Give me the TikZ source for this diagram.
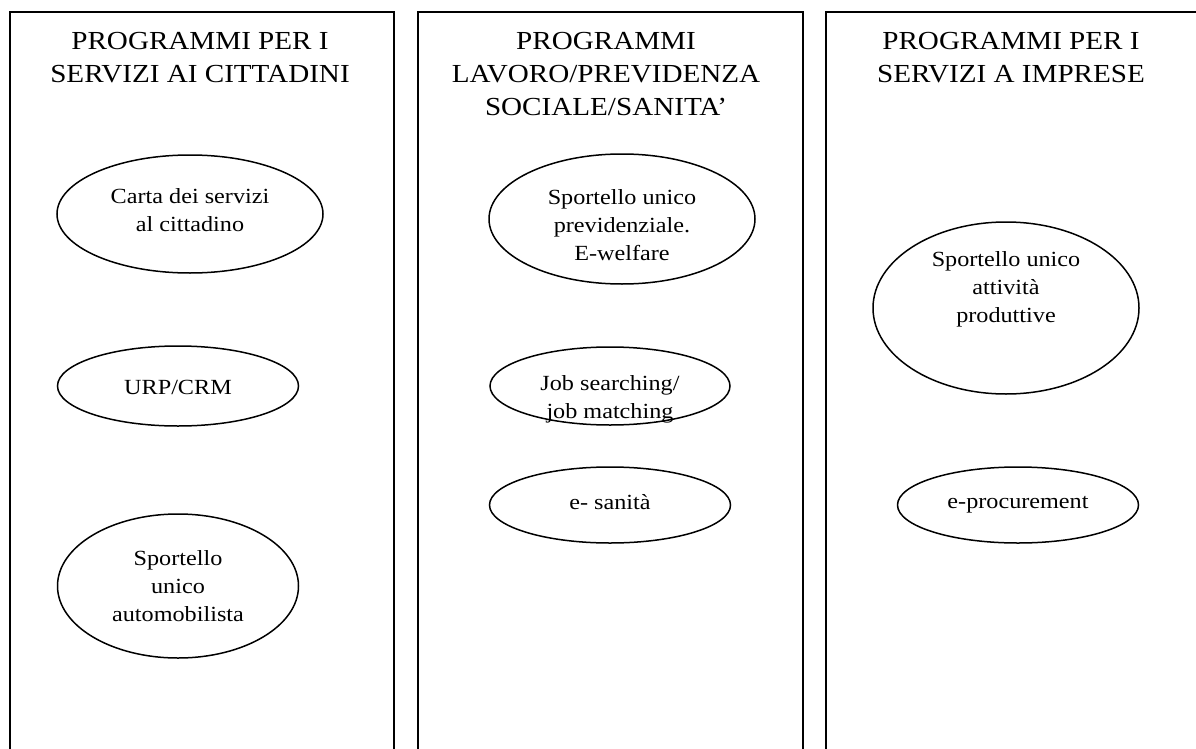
\documentclass[tikz,border=0pt]{standalone}
\usepackage{fontspec}
\setmainfont[FakeStretch=1.12]{Liberation Serif}
\usetikzlibrary{shapes.geometric}
\tikzset{
  colbox/.style={draw, line width=2pt, rectangle, inner sep=0pt, anchor=north west, minimum height=780pt},
  ell/.style={draw, ellipse, line width=1.5pt, inner sep=0pt},
  hdr/.style={anchor=base, inner sep=0pt, font=\fontsize{26}{33}\selectfont},
  etext/.style={anchor=base, inner sep=0pt, font=\fontsize{21.6}{28}\selectfont},
}
\newcommand{\lines}[1]{\begin{tabular}[t]{@{}c@{}}#1\end{tabular}}
\begin{document}
\begin{tikzpicture}[x=1pt,y=-1pt]
\useasboundingbox (0,0) rectangle (1196,749);
\clip (0,0) rectangle (1196,749);
\fill[white] (0,0) rectangle (1196,749);
% columns
\node[colbox, minimum width=384pt] (c1) at (9,11) {};
\node[colbox, minimum width=385pt] (c2) at (417,11) {};
\node[colbox, minimum width=400pt] (c3) at (825,11) {};
% headers
\node[hdr] (h1) at (200,50) {\lines{PROGRAMMI PER I\\SERVIZI AI CITTADINI}};
\node[hdr] (h2) at (606,50) {\lines{PROGRAMMI\\LAVORO/PREVIDENZA\\SOCIALE/SANITA’}};
\node[hdr] (h3) at (1011,50) {\lines{PROGRAMMI PER I\\SERVIZI A IMPRESE}};
% column 1
\node[ell, minimum width=266pt, minimum height=118pt] (e11) at (190,214) {};
\node[etext] (t11) at (190,203) {\lines{Carta dei servizi\\al cittadino}};
\node[ell, minimum width=241pt, minimum height=80pt] (e12) at (178,386) {};
\node[etext] (t12) at (178,394) {\lines{URP/CRM}};
\node[ell, minimum width=241pt, minimum height=144pt] (e13) at (178,586) {};
\node[etext] (t13) at (178,565) {\lines{Sportello\\unico\\automobilista}};
% column 2
\node[ell, minimum width=266pt, minimum height=130pt] (e21) at (622,219) {};
\node[etext] (t21) at (622,204) {\lines{Sportello unico\\previdenziale.\\E-welfare}};
\node[ell, minimum width=240pt, minimum height=78pt] (e22) at (610,386) {};
\node[etext] (t22) at (610,390) {\lines{Job searching/\\job matching}};
\node[ell, minimum width=241pt, minimum height=76pt] (e23) at (610,505) {};
\node[etext] (t23) at (610,509) {\lines{e- sanità}};
% column 3
\node[ell, minimum width=266pt, minimum height=172pt] (e31) at (1006,308) {};
\node[etext] (t31) at (1006,266) {\lines{Sportello unico\\attività\\produttive}};
\node[ell, minimum width=241pt, minimum height=76pt] (e32) at (1018,505) {};
\node[etext] (t32) at (1018,508) {\lines{e-procurement}};
\end{tikzpicture}
\end{document}
